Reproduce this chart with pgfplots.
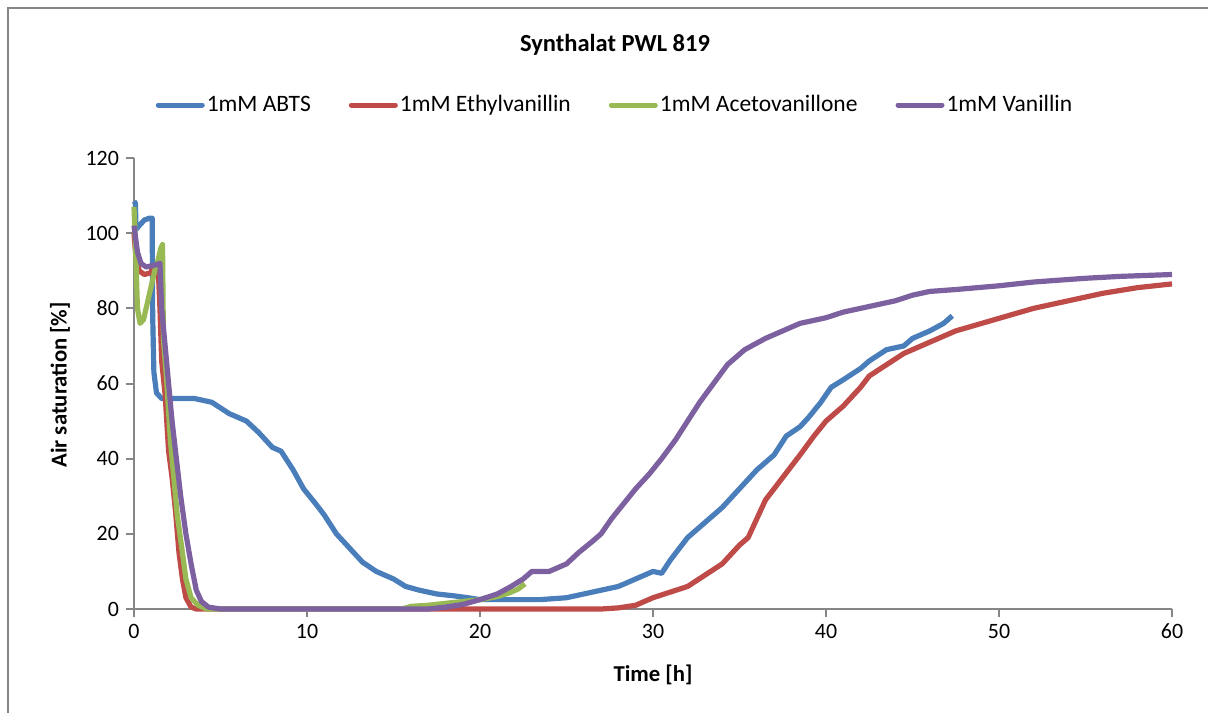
\documentclass[border=0pt]{standalone}
\usepackage{pgfplots}
\pgfplotsset{compat=1.18}
\usepackage{fontspec}
\setmainfont{Carlito}
\definecolor{cblue}{HTML}{4A7EBB}
\definecolor{cred}{HTML}{BE4B48}
\definecolor{cgreen}{HTML}{98B954}
\definecolor{cpurple}{HTML}{7D60A0}
\definecolor{axgray}{HTML}{868686}
\begin{document}
\begin{tikzpicture}
\useasboundingbox (-67bp,-52bp) rectangle (537bp,304.5bp);
\draw[axgray,line width=1.3bp] (-63bp,-60bp) -- (-63bp,300.5bp) -- (545bp,300.5bp);
\begin{axis}[
  at={(0,0)}, anchor=south west,
  scale only axis, width=519bp, height=225.5bp,
  xmin=0, xmax=60, ymin=0, ymax=120,
  xtick={0,10,...,60}, ytick={0,20,...,120},
  axis x line*=bottom, axis y line*=left,
  axis line style={axgray, line width=1bp},
  tick style={axgray, line width=1bp},
  tick align=outside, major tick length=4bp,
  /pgf/number format/assume math mode=true,
  ticklabel style={font=\fontsize{11}{13}\selectfont, text=black},
  xlabel={}, ylabel={},
  clip=false,
  legend columns=4,
  legend style={at={(0.4634,1.1175)}, anchor=center, draw=none, fill=none,
    font=\fontsize{11.8}{14}\selectfont, inner sep=0pt,
    /tikz/every even column/.append style={column sep=18bp},
    nodes={inner sep=1bp}},
  legend image code/.code={\draw[#1, line width=2.5bp, line cap=round] (0bp,0bp) -- (22bp,0bp);},
  every axis plot/.append style={line width=2.6bp, line join=round},
]
\addplot[cblue, no marks] coordinates {
(0,108.5) (0.08,108) (0.12,101) (0.3,102) (0.6,103.5) (0.9,104) (1.05,104)
(1.08,78) (1.15,63) (1.3,57.5) (1.6,56) (3.5,56) (4.5,55) (5.5,52) (6.5,50)
(7.2,47) (8,43) (8.5,42) (9.2,37) (9.8,32) (10.5,28) (11,25) (11.7,20) (12.5,16)
(13.2,12.5) (14,10) (15,8) (15.7,6) (16.5,5) (17.5,4) (18.5,3.5) (19.3,3) (20,2.5)
(22,2.5) (23.5,2.5) (25,3) (26,4) (27,5) (28,6) (29,8) (30,10) (30.5,9.5)
(31,13) (31.5,16) (32,19) (33,23) (34,27) (35,32) (36,37) (37,41) (37.7,46)
(38.5,48.5) (39,51) (39.7,55) (40.3,59) (41,61) (42,64) (42.5,66) (43.5,69)
(44.5,70) (45,72) (46,74) (46.8,76) (47.3,78)
};
\addlegendentry{1mM ABTS}
\addplot[cred, no marks] coordinates {
(0,100) (0.1,94) (0.3,90) (0.6,89) (1.0,89.5) (1.05,91) (1.4,90.5) (1.5,80)
(1.6,66) (1.8,57) (2.0,42) (2.2,35) (2.4,26) (2.6,15) (2.8,8) (3.0,3) (3.3,0.5)
(3.6,0) (27,0) (28,0.3) (29,1) (30,3) (31,4.5) (32,6) (33,9) (34,12) (35,17)
(35.5,19) (36,24) (36.5,29) (37.5,35) (38.5,41) (39.3,46) (40,50) (41,54) (42,59)
(42.5,62) (43.5,65) (44.5,68) (45.5,70) (46.5,72) (47.5,74) (49,76) (50.5,78)
(52,80) (54,82) (56,84) (58,85.5) (60,86.5)
};
\addlegendentry{1mM Ethylvanillin}
\addplot[cgreen, no marks] coordinates {
(0,107) (0.1,95) (0.2,80) (0.35,76) (0.55,77) (0.8,82) (1.0,86) (1.2,90) (1.4,93)
(1.55,96) (1.65,97) (1.7,72) (1.9,60) (2.1,45) (2.3,35) (2.5,25) (2.8,15) (3.0,8)
(3.3,3) (3.7,1) (4.2,0) (15.5,0) (16,0.7) (17,1) (18,1.5) (19,2) (20,2.5) (21,3.3)
(21.7,4.3) (22.2,5.3) (22.6,6.7)
};
\addlegendentry{1mM Acetovanillone}
\addplot[cpurple, no marks] coordinates {
(0,102) (0.2,95) (0.4,92) (0.7,91) (1.2,91.5) (1.5,92) (1.6,80) (1.8,70) (2.0,60)
(2.2,50) (2.45,40) (2.7,30) (3.0,20) (3.3,12) (3.6,5) (3.9,2) (4.3,0.5) (5,0)
(17,0) (18,0.5) (19,1.2) (20,2.5) (21,4) (21.8,6) (22.5,8) (23,10) (24,10) (25,12)
(25.7,15) (26.5,18) (27,20) (27.6,24) (28.3,28) (29,32) (29.8,36) (30.5,40)
(31.3,45) (32,50) (32.7,55) (33.5,60) (34.3,65) (35.3,69) (36.5,72) (37.5,74)
(38.5,76) (40,77.5) (41,79) (43,81) (44,82) (45,83.5) (46,84.5) (47.5,85) (50,86)
(52,87) (55,88) (57,88.5) (60,89)
};
\addlegendentry{1mM Vanillin}
\node[font=\fontsize{12.3}{14}\selectfont\bfseries] at (axis description cs:0.4634,1.2506) {Synthalat PWL 819};
\node[font=\fontsize{11.4}{13}\selectfont\bfseries] at (axis description cs:0.5,-0.146) {Time [h]};
\node[font=\fontsize{11.4}{13}\selectfont\bfseries, rotate=90] at (axis description cs:-0.0713,0.497) {Air saturation [\%]};
\end{axis}
\end{tikzpicture}
\end{document}
